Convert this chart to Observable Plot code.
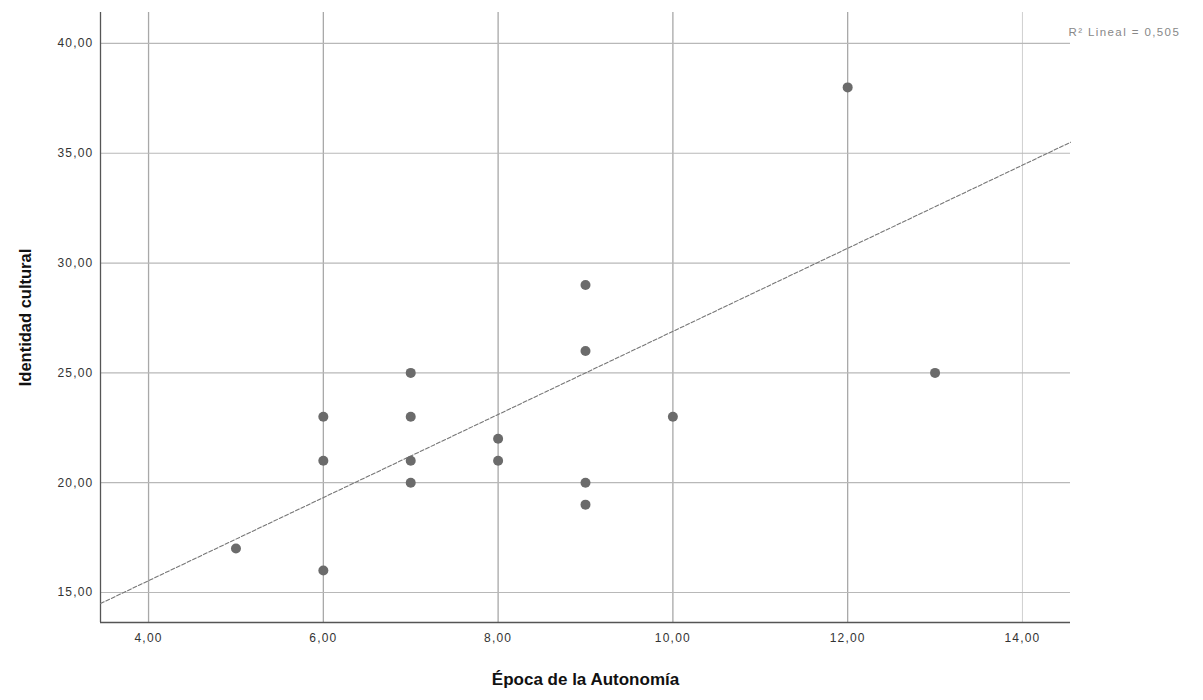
<!DOCTYPE html>
<html>
<head>
<meta charset="utf-8">
<script src="https://cdn.jsdelivr.net/npm/d3@7"></script>
<script src="https://cdn.jsdelivr.net/npm/@observablehq/plot@0.6"></script>
<style>
  body { margin: 0; background: #fff; }
  #chart svg { font-family: "Liberation Sans", Arial, sans-serif; }
  #chart svg [aria-label="x-axis tick label"] text,
  #chart svg [aria-label="y-axis tick label"] text { letter-spacing: 1.2px; }
  #chart svg .r2 text { letter-spacing: 1.4px; }
</style>
</head>
<body>
<div id="chart"></div>
<script>
// Data
const epoca = [5, 6, 6, 6, 7, 7, 7, 7, 8, 8, 9, 9, 9, 9, 10, 12, 13];
const identidad = [17, 23, 21, 16, 25, 23, 21, 20, 22, 21, 29, 26, 20, 19, 23, 38, 25];
const xTicks = [4, 6, 8, 10, 12, 14];
const yTicks = [15, 20, 25, 30, 35, 40];
const fitIntercept = 7.97;
const fitSlope = 1.892;
const r2Label = "R² Lineal = 0,505";
const xLabel = "Época de la Autonomía";
const yLabel = "Identidad cultural";

const xDomain = [3.45, 14.55];
const yDomain = [13.634, 41.41];

const points = epoca.map((x, i) => ({x, y: identidad[i]}));
const fitLine = xDomain.map(x => ({x, y: fitIntercept + fitSlope * x}));
const fmt = d => d.toFixed(2).replace(".", ",");

const chart = Plot.plot({
  width: 1203,
  height: 700,
  marginLeft: 100,
  marginRight: 133,
  marginTop: 12,
  marginBottom: 78,
  x: {domain: xDomain},
  y: {domain: yDomain},
  marks: [
    Plot.gridX(xTicks.slice(0, 5), {stroke: "#a8a8a8", strokeOpacity: 1, strokeWidth: 1.3}),
    Plot.gridX(xTicks.slice(5), {stroke: "#cfcfcf", strokeOpacity: 1}),
    Plot.gridY(yTicks, {stroke: "#b8b8b8", strokeOpacity: 1, strokeWidth: 1.2}),
    Plot.ruleX([xDomain[0]], {stroke: "#555", strokeWidth: 1.3}),
    Plot.ruleY([yDomain[0]], {stroke: "#555", strokeWidth: 1.3}),
    Plot.axisX(xTicks, {tickSize: 0, tickPadding: 11, tickFormat: fmt, label: null, fontSize: 12, fill: "#333"}),
    Plot.axisY(yTicks, {tickSize: 0, tickPadding: 7, tickFormat: fmt, label: null, fontSize: 12, fill: "#333"}),
    Plot.line(fitLine, {x: "x", y: "y", stroke: "#777", strokeWidth: 1.1, strokeDasharray: "4,2"}),
    Plot.dot(points, {x: "x", y: "y", r: 5, fill: "#6b6b6b", stroke: "none"}),
    Plot.text([yLabel], {frameAnchor: "left", textAnchor: "middle", dx: -75, rotate: -90, fontSize: 16.5, fontWeight: "bold", fill: "#111"}),
    Plot.text([xLabel], {frameAnchor: "bottom", textAnchor: "middle", dy: 62, fontSize: 17, fontWeight: "bold", fill: "#111"}),
    Plot.text([r2Label], {frameAnchor: "top-right", textAnchor: "start", dx: -2, dy: 15, fontSize: 11.5, fill: "#888", className: "r2"})
  ]
});
document.getElementById("chart").appendChild(chart);
</script>
</body>
</html>
